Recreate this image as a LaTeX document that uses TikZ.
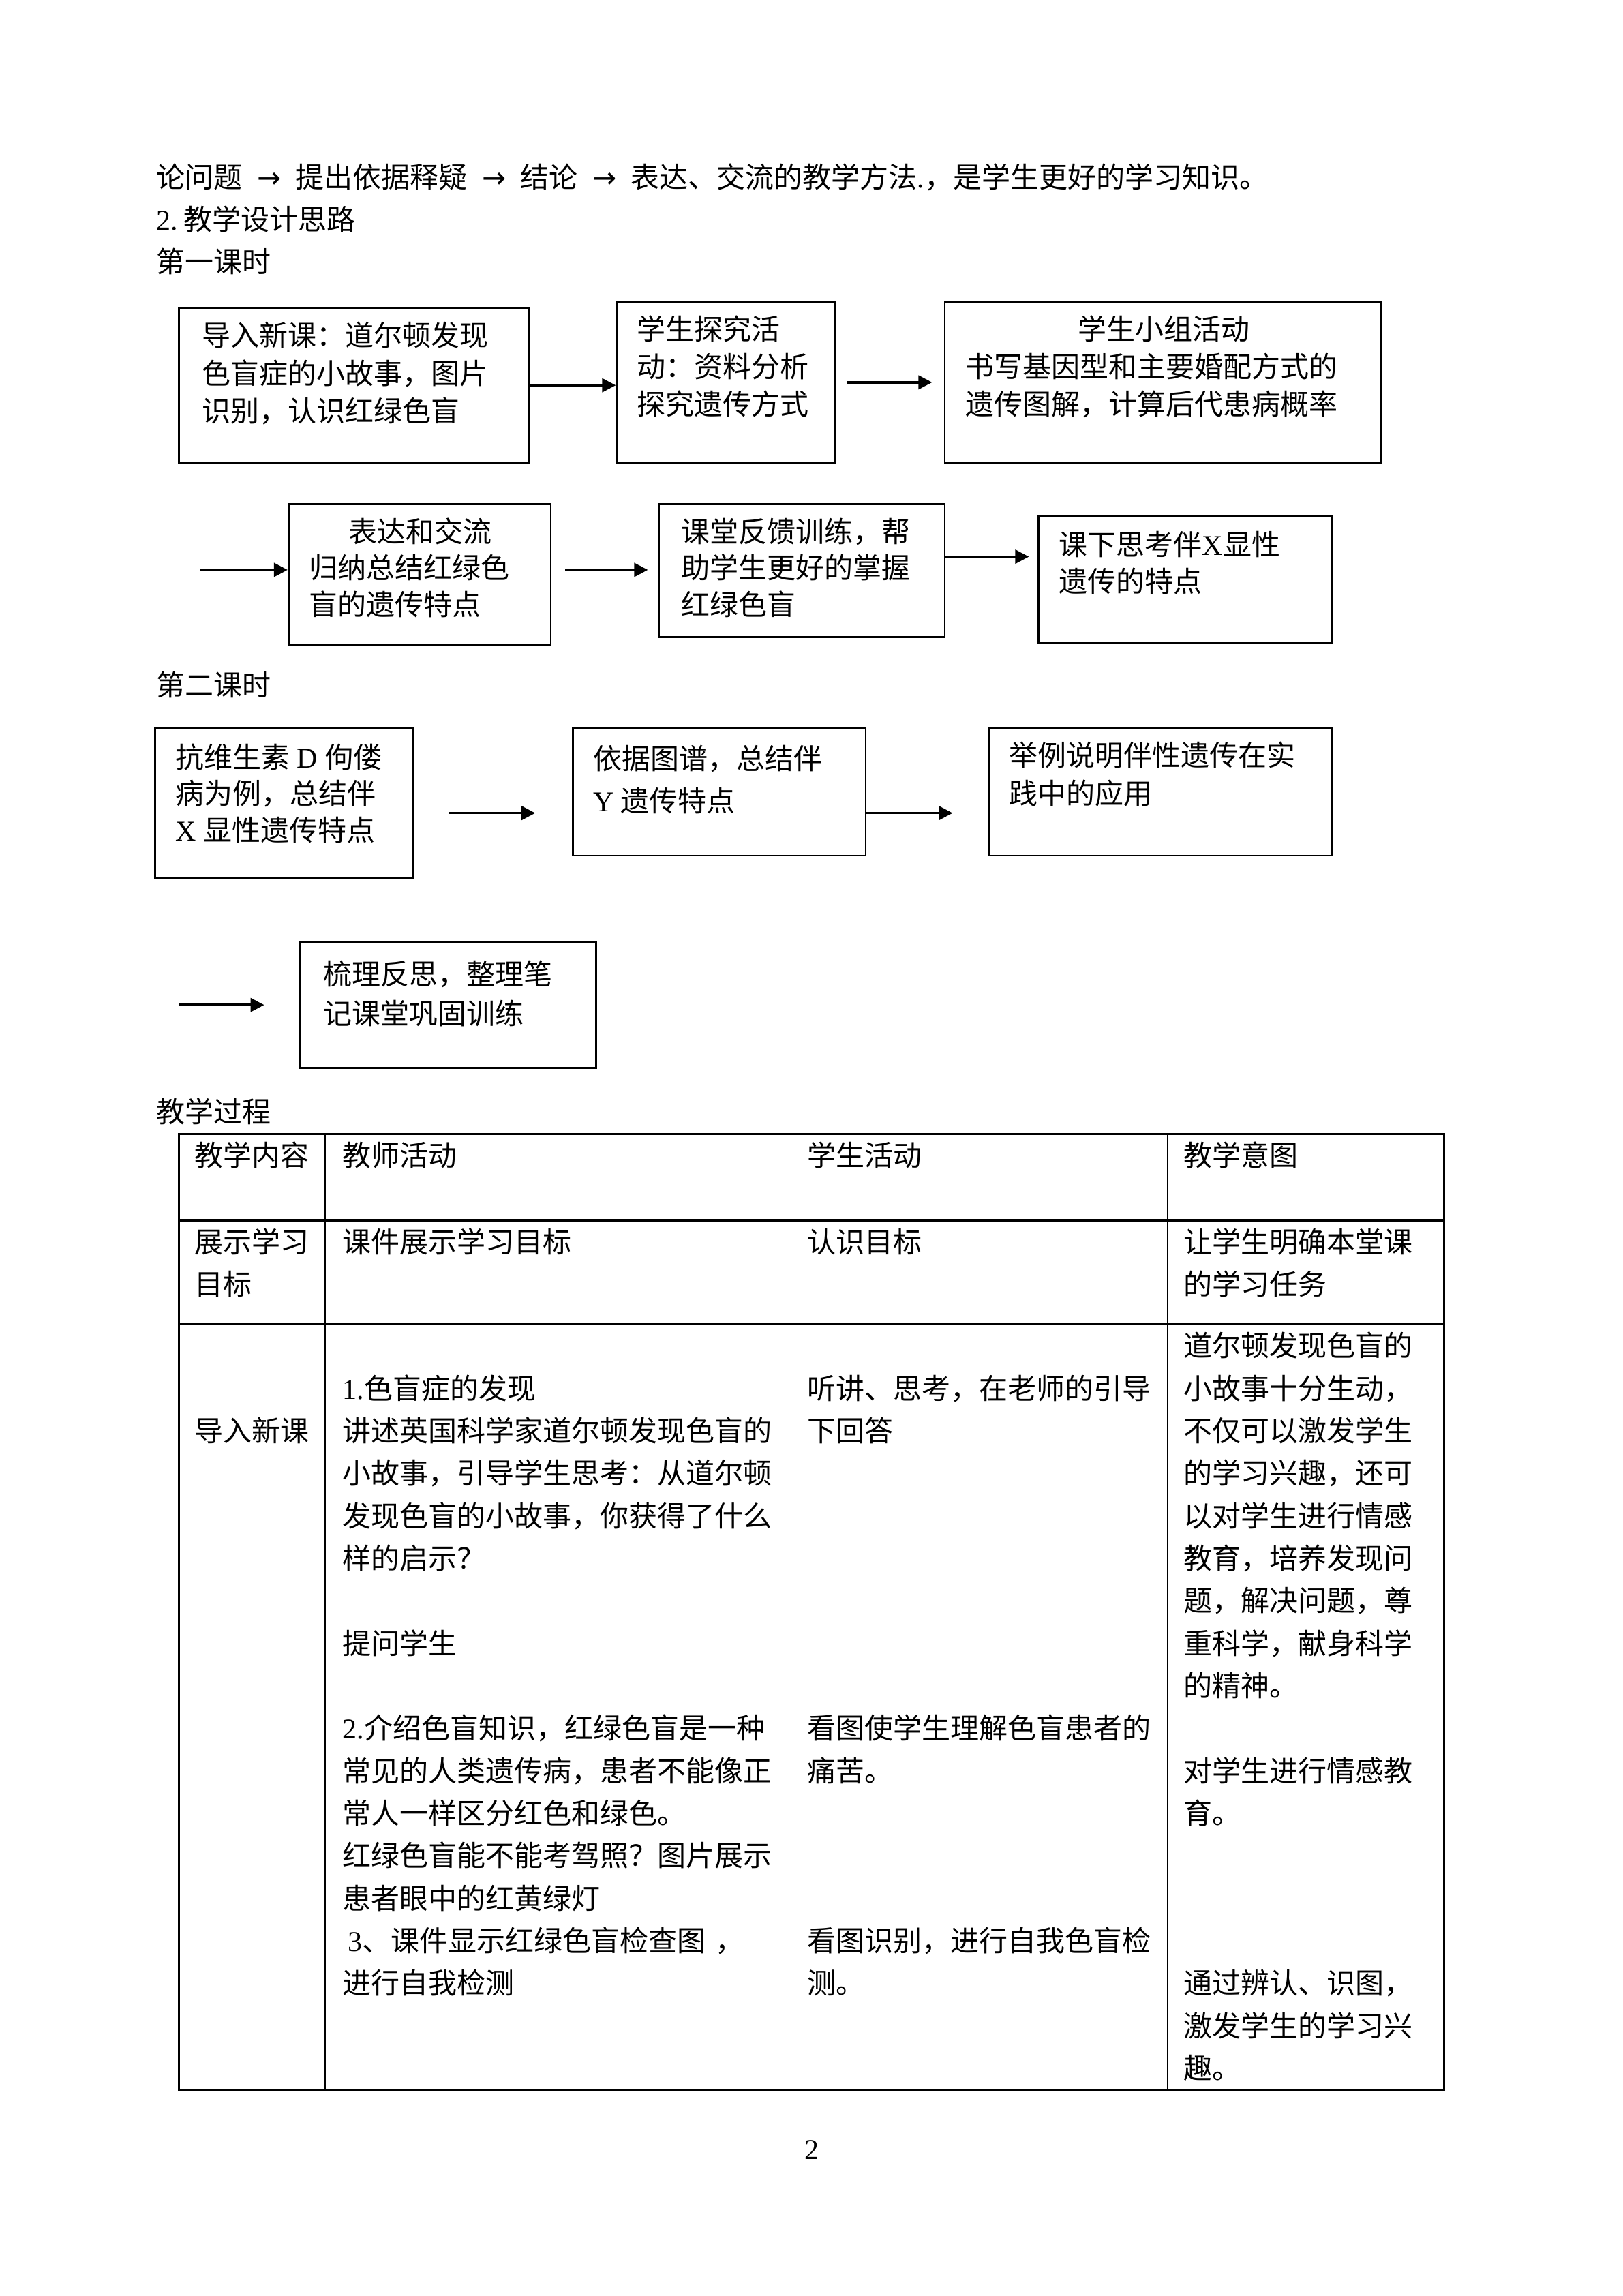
\documentclass[tikz,border=0pt]{standalone}
\usepackage{fontspec}
\setmainfont{Liberation Serif}
\newfontfamily\cjk{Noto Sans CJK SC}
\newfontfamily\dvs{DejaVu Sans}
\usetikzlibrary{arrows.meta,fit}
\newcommand{\latn}[1]{{\rmfamily #1}}
\newcommand{\arw}{\hspace{3.5pt}\makebox[12.5pt][c]{\dvs →}\hspace{3.5pt}}
\newcommand{\ls}{\hspace{2.5pt}}
\tikzset{
  txt/.style={anchor=base west, inner sep=0pt, outer sep=0pt, text width=330pt, align=left, font=\cjk\fontsize{10.5pt}{#1}\selectfont},
  txt/.default=15.58pt,
  flowbox/.style={draw, line width=0.7pt, inner sep=0pt, rectangle},
  arr/.style={line width=0.9pt, -{Triangle[length=5pt,width=5pt]}},
  tblout/.style={line width=0.8pt},
  tblin/.style={line width=0.4pt}
}
\begin{document}
\begin{tikzpicture}[x=0.5372pt,y=-0.5372pt]
\useasboundingbox (0,0) rectangle (1108,1567.3);

% heading text
\node[txt, text width=560pt] (h1) at (107,128) {论问题\arw 提出依据释疑\arw 结论\arw 表达、交流的教学方法\latn{.}，是学生更好的学习知识。};
\node[txt] (h2) at (107,157) {\latn{2.}\hspace{2pt}教学设计思路};
\node[txt] (h3) at (107,186) {第一课时};

% row 1 boxes
\node[flowbox, fit={(122,210) (361,316)}] (A) {};
\node[txt=13.97pt] (At) at (138,236) {导入新课：道尔顿发现\\色盲症的小故事，图片\\识别，认识红绿色盲};
\node[flowbox, fit={(421,206) (570,316)}] (B) {};
\node[txt=13.7pt] (Bt) at (435,232) {学生探究活\\动：资料分析\\探究遗传方式};
\node[flowbox, fit={(645,206) (943,316)}] (C) {};
\node[txt=13.7pt] (Ct) at (659,232) {\hspace*{41.4pt}学生小组活动\\书写基因型和主要婚配方式的\\遗传图解，计算后代患病概率};

\draw[arr] (A.east) -- (A.east -| B.west);
\draw[arr, shorten <=4.3pt, shorten >=4.3pt] (B.east) -- (B.east -| C.west);

% row 2 boxes
\node[flowbox, fit={(197,344) (376,440)}] (D) {};
\node[txt=13.43pt] (Dt) at (211,370) {\hspace*{14.5pt}表达和交流\\归纳总结红绿色\\盲的遗传特点};
\node[flowbox, fit={(450,344) (645,435)}] (E) {};
\node[txt=13.43pt] (Et) at (465,370) {课堂反馈训练，帮\\助学生更好的掌握\\红绿色盲};
\node[flowbox, fit={(709,352) (909,439)}] (F) {};
\node[txt=13.43pt] (Ft) at (723,379) {课下思考伴\latn{X}显性\\遗传的特点};

\coordinate (s2) at (137,389);
\coordinate (s3) at (645,380);
\draw[arr] (s2) -- (s2 -| D.west);
\draw[arr, shorten <=4.8pt, shorten >=3.8pt] (s2 -| D.east) -- (s2 -| E.west);
\draw[arr, shorten >=3.2pt] (s3 -| E.east) -- (s3 -| F.west);

\node[txt] (h4) at (107,475) {第二课时};

% row 3 boxes
\node[flowbox, fit={(106,497) (282,599)}] (G) {};
\node[txt=13.43pt] (Gt) at (120,524) {抗维生素\ls\latn{D}\ls 佝偻\\病为例，总结伴\\\latn{X}\ls 显性遗传特点};
\node[flowbox, fit={(391,497) (591,584)}] (H) {};
\node[txt=15.58pt] (Ht) at (405,525) {依据图谱，总结伴\\\latn{Y}\ls 遗传特点};
\node[flowbox, fit={(675,497) (909,584)}] (I) {};
\node[txt=13.97pt] (It) at (689,523) {举例说明伴性遗传在实\\践中的应用};

\coordinate (s4) at (0,555);
\draw[arr, shorten <=12.9pt, shorten >=13.4pt] (s4 -| G.east) -- (s4 -| H.west);
\draw[arr, shorten >=12.9pt] (s4 -| H.east) -- (s4 -| I.west);

% row 4
\node[flowbox, fit={(205,643) (407,729)}] (J) {};
\node[txt=14.5pt] (Jt) at (221,672) {梳理反思，整理笔\\记课堂巩固训练};
\coordinate (s5) at (122,686);
\draw[arr, shorten >=12.9pt] (s5) -- (s5 -| J.west);

\node[txt] (h5) at (107,766) {教学过程};

% table
\draw[tblin] (222,774) -- (222,1427) (540,774) -- (540,1427) (797,774) -- (797,1427);
\draw[tblout] (122,833) -- (986,833) (122,904) -- (986,904);
\draw[tblout] (122,774) rectangle (986,1427);

\node[txt] (c11) at (133,796) {教学内容};
\node[txt] (c12) at (234,796) {教师活动};
\node[txt] (c13) at (551,796) {学生活动};
\node[txt] (c14) at (808,796) {教学意图};

\node[txt] (c21) at (133,855) {展示学习\\目标};
\node[txt] (c22) at (234,855) {课件展示学习目标};
\node[txt] (c23) at (551,855) {认识目标};
\node[txt] (c24) at (808,855) {让学生明确本堂课\\的学习任务};

\node[txt] (c31) at (133,984) {导入新课};
\node[txt] (c32) at (234,955) {\latn{1.}色盲症的发现\\
讲述英国科学家道尔顿发现色盲的\\
小故事，引导学生思考：从道尔顿\\
发现色盲的小故事，你获得了什么\\
样的启示？\\
\mbox{}\\
提问学生\\
\mbox{}\\
\latn{2.}介绍色盲知识，红绿色盲是一种\\
常见的人类遗传病，患者不能像正\\
常人一样区分红色和绿色。\\
红绿色盲能不能考驾照？图片展示\\
患者眼中的红黄绿灯\\
\hspace*{2pt}\latn{3}、课件显示红绿色盲检查图\ ，\\
进行自我检测};
\node[txt] (c33) at (551,955) {听讲、思考，在老师的引导\\
下回答\\
\mbox{}\\ \mbox{}\\ \mbox{}\\ \mbox{}\\ \mbox{}\\ \mbox{}\\
看图使学生理解色盲患者的\\
痛苦。\\
\mbox{}\\ \mbox{}\\ \mbox{}\\
看图识别，进行自我色盲检\\
测。};
\node[txt] (c34) at (808,926) {道尔顿发现色盲的\\
小故事十分生动，\\
不仅可以激发学生\\
的学习兴趣，还可\\
以对学生进行情感\\
教育，培养发现问\\
题，解决问题，尊\\
重科学，献身科学\\
的精神。\\
\mbox{}\\
对学生进行情感教\\
育。\\
\mbox{}\\ \mbox{}\\ \mbox{}\\
通过辨认、识图，\\
激发学生的学习兴\\
趣。};

\node[anchor=base, inner sep=0pt, font=\fontsize{10.5pt}{12pt}\selectfont] (pg) at (554,1474) {2};
\end{tikzpicture}
\end{document}
